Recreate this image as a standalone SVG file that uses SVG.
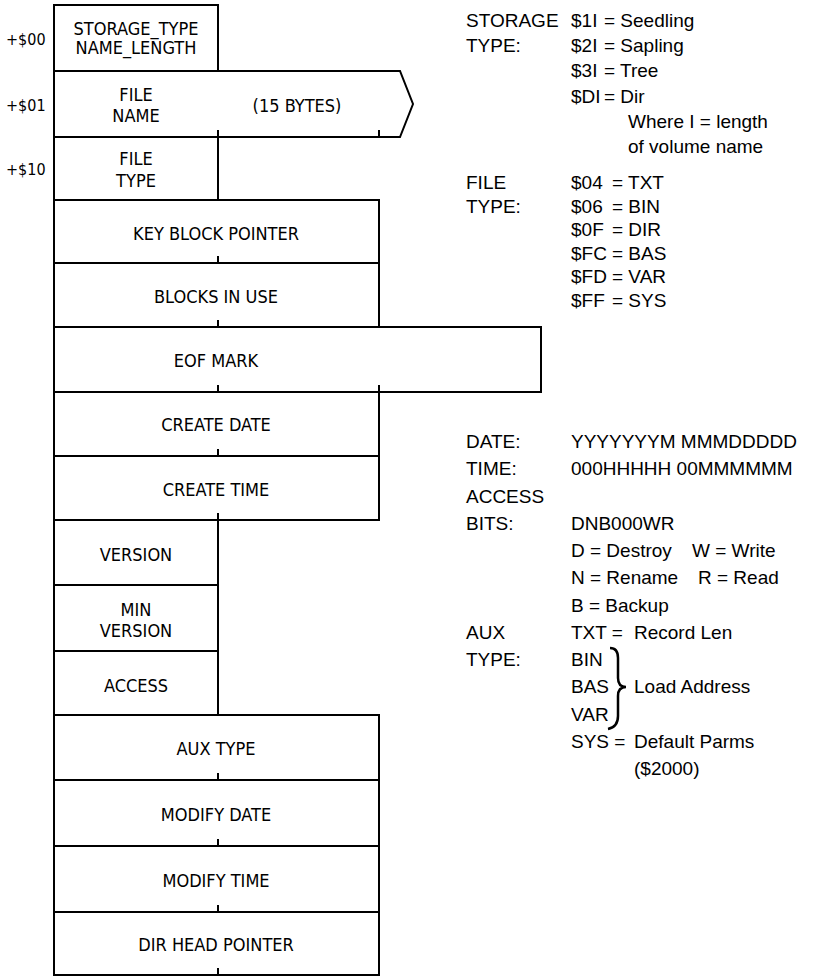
<svg xmlns="http://www.w3.org/2000/svg" width="819" height="976" viewBox="0 0 819 976">
<style>
.box{fill:#fff;stroke:#000;stroke-width:2}
.tick{stroke:#000;stroke-width:2}
.lbl{font-family:"DejaVu Sans Condensed","DejaVu Sans",sans-serif;font-stretch:condensed;font-size:18px;fill:#000;text-anchor:middle}
.off{font-family:"DejaVu Sans Condensed","DejaVu Sans",sans-serif;font-stretch:condensed;font-size:16px;fill:#000}
.t{font-family:"Liberation Sans",Arial,sans-serif;font-size:19px;fill:#000}
</style>
<rect width="819" height="976" fill="#fff"/>
<g id="offsets">
<text class="off" x="6" y="45">+$00</text>
<text class="off" x="6" y="111">+$01</text>
<text class="off" x="6" y="175">+$10</text>
</g>
<g id="n-storage"><rect class="box" x="54" y="5" width="164" height="66"/><text class="lbl" x="136" y="35">STORAGE_TYPE</text><text class="lbl" x="136" y="54">NAME_LENGTH</text></g>
<g id="n-filename"><path class="box" d="M54,71 H400 L413,104 L400,137 H54 Z"/><text class="lbl" x="136" y="101">FILE</text><text class="lbl" x="136" y="122">NAME</text><text class="lbl" x="297" y="112">(15 BYTES)</text></g>
<g id="n-filetype"><rect class="box" x="54" y="137" width="164" height="63"/><text class="lbl" x="136" y="165">FILE</text><text class="lbl" x="136" y="187">TYPE</text></g>
<g id="n-keyblock"><rect class="box" x="54" y="200" width="325" height="63"/><text class="lbl" x="216" y="240">KEY BLOCK POINTER</text></g>
<g id="n-blocks"><rect class="box" x="54" y="263" width="325" height="64"/><text class="lbl" x="216" y="303">BLOCKS IN USE</text></g>
<g id="n-eof"><rect class="box" x="54" y="327" width="487" height="65"/><text class="lbl" x="216" y="367">EOF MARK</text></g>
<g id="n-cdate"><rect class="box" x="54" y="392" width="325" height="64"/><text class="lbl" x="216" y="431">CREATE DATE</text></g>
<g id="n-ctime"><rect class="box" x="54" y="456" width="325" height="64"/><text class="lbl" x="216" y="496">CREATE TIME</text></g>
<g id="n-version"><rect class="box" x="54" y="520" width="164" height="65"/><text class="lbl" x="136" y="561">VERSION</text></g>
<g id="n-minversion"><rect class="box" x="54" y="585" width="164" height="66"/><text class="lbl" x="136" y="616">MIN</text><text class="lbl" x="136" y="637">VERSION</text></g>
<g id="n-access"><rect class="box" x="54" y="651" width="164" height="64"/><text class="lbl" x="136" y="692">ACCESS</text></g>
<g id="n-auxtype"><rect class="box" x="54" y="715" width="325" height="65"/><text class="lbl" x="216" y="755">AUX TYPE</text></g>
<g id="n-mdate"><rect class="box" x="54" y="780" width="325" height="66"/><text class="lbl" x="216" y="821">MODIFY DATE</text></g>
<g id="n-mtime"><rect class="box" x="54" y="846" width="325" height="66"/><text class="lbl" x="216" y="887">MODIFY TIME</text></g>
<g id="n-dirhead"><rect class="box" x="54" y="912" width="325" height="63"/><text class="lbl" x="216" y="951">DIR HEAD POINTER</text></g>
<g id="ticks">
<path class="tick" d="M218,130 V137 M379,130 V137 M218,256 V263 M218,320 V327 M218,385 V392 M379,385 V392 M218,449 V456 M218,513 V520 M218,773 V780 M218,839 V846 M218,905 V912 M218,968 V975"/>
</g>
<g id="notes">
<text class="t" x="466" y="27">STORAGE</text><text class="t" x="571" y="27">$1I</text><text class="t" x="604" y="27">= Seedling</text>
<text class="t" x="466" y="52">TYPE:</text><text class="t" x="571" y="52">$2I</text><text class="t" x="604" y="52">= Sapling</text>
<text class="t" x="571" y="77">$3I</text><text class="t" x="604" y="77">= Tree</text>
<text class="t" x="571" y="103">$DI</text><text class="t" x="604" y="103">= Dir</text>
<text class="t" x="628" y="128">Where I = length</text>
<text class="t" x="628" y="153">of volume name</text>
<text class="t" x="466" y="189">FILE</text><text class="t" x="571" y="189">$04</text><text class="t" x="612" y="189">= TXT</text>
<text class="t" x="466" y="212.5">TYPE:</text><text class="t" x="571" y="212.5">$06</text><text class="t" x="612" y="212.5">= BIN</text>
<text class="t" x="571" y="236">$0F</text><text class="t" x="612" y="236">= DIR</text>
<text class="t" x="571" y="259.5">$FC</text><text class="t" x="612" y="259.5">= BAS</text>
<text class="t" x="571" y="283">$FD</text><text class="t" x="612" y="283">= VAR</text>
<text class="t" x="571" y="306.5">$FF</text><text class="t" x="612" y="306.5">= SYS</text>
<text class="t" x="466" y="448">DATE:</text><text class="t" x="571" y="448">YYYYYYYM MMMDDDDD</text>
<text class="t" x="466" y="475">TIME:</text><text class="t" x="571" y="475">000HHHHH 00MMMMMM</text>
<text class="t" x="466" y="502.5">ACCESS</text>
<text class="t" x="466" y="530">BITS:</text><text class="t" x="571" y="530">DNB000WR</text>
<text class="t" x="571" y="557">D = Destroy</text><text class="t" x="692" y="557">W = Write</text>
<text class="t" x="571" y="584">N = Rename</text><text class="t" x="698" y="584">R = Read</text>
<text class="t" x="571" y="611.5">B = Backup</text>
<text class="t" x="466" y="639">AUX</text><text class="t" x="571" y="639">TXT =</text><text class="t" x="634" y="639">Record Len</text>
<text class="t" x="466" y="666">TYPE:</text><text class="t" x="571" y="666">BIN</text>
<text class="t" x="571" y="693">BAS</text><text class="t" x="634" y="693">Load Address</text>
<text class="t" x="571" y="720.5">VAR</text>
<text class="t" x="571" y="748">SYS =</text><text class="t" x="634" y="748">Default Parms</text>
<text class="t" x="634" y="775">($2000)</text>
<path d="M610,648 Q618,648 618,658 L618,678 Q618,687 626,687 Q618,687 618,696 L618,716 Q618,727 608,729" fill="none" stroke="#000" stroke-width="2.5"/>
</g>
</svg>
